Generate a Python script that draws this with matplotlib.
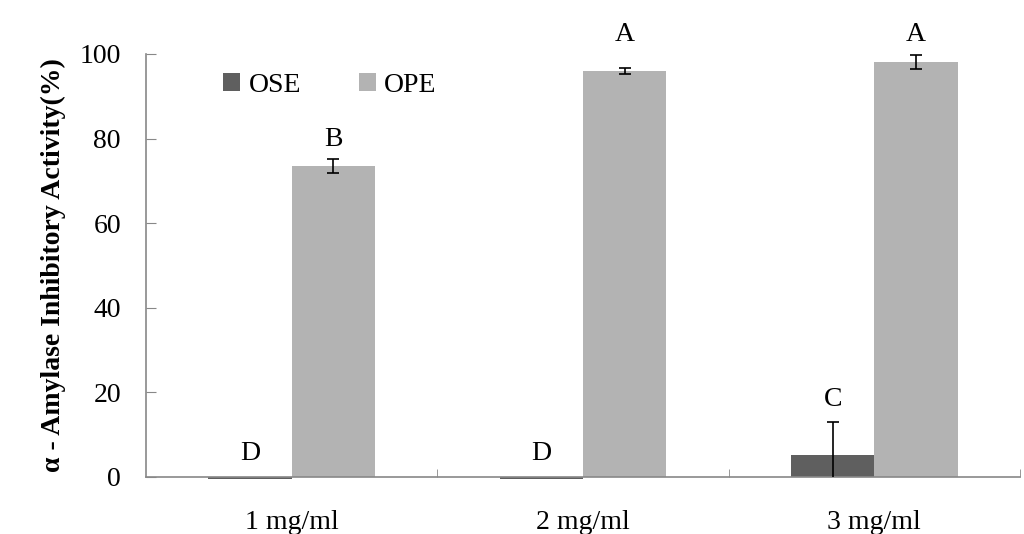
import numpy as np
import matplotlib.pyplot as plt

plt.rcParams['font.family'] = ['Liberation Serif', 'DejaVu Serif']

doses = ['1 mg/ml', '2 mg/ml', '3 mg/ml']
ose = [-0.4, -0.4, 5.3]
ose_err = [0.0, 0.0, 7.6]
ope = [73.5, 96.0, 98.1]
ope_err = [1.6, 0.7, 1.7]
ose_letters = ['D', 'D', 'C']
ope_letters = ['B', 'A', 'A']

c_ose = '#5f5f5f'
c_ope = '#b3b3b3'

fig = plt.figure(figsize=(10.24, 5.34), dpi=100)
ax = fig.add_axes([146/1024, 57/534, 874/1024, 423/534])

x = np.arange(len(doses))
w = 1 / 3.5

b1 = ax.bar(x - w/2, ose, w, color=c_ose, label='OSE', clip_on=False, zorder=2)
b2 = ax.bar(x + w/2, ope, w, color=c_ope, label='OPE', zorder=2)

for i in range(len(doses)):
    if ose_err[i] > 0:
        ax.errorbar(x[i] - w/2, ose[i], yerr=ose_err[i], fmt='none', ecolor='k',
                    elinewidth=1.2, capsize=4, capthick=1.2, zorder=3)
    ax.errorbar(x[i] + w/2, ope[i], yerr=ope_err[i], fmt='none', ecolor='k',
                elinewidth=1.2, capsize=4, capthick=1.2, zorder=3)

# significance letters
ose_pos = [5.5, 5.5, 18.4]
ope_pos = [79.8, 104.6, 104.6]
for i in range(len(doses)):
    ax.text(x[i] - w/2, ose_pos[i], ose_letters[i], ha='center', va='center', fontsize=20, clip_on=False)
    ax.text(x[i] + w/2, ope_pos[i], ope_letters[i], ha='center', va='center', fontsize=20, clip_on=False)

ax.set_xlim(-0.5, 2.5)
ax.set_ylim(0, 100)
ax.set_yticks(range(0, 101, 20))
ax.set_xticks(x)
ax.set_xticklabels(doses)
ax.set_xticks([0.5, 1.5, 2.5], minor=True)
ax.tick_params(axis='x', which='major', length=0, pad=24, labelsize=20)
ax.tick_params(axis='x', which='minor', length=6, direction='in', color='#888888')
ax.tick_params(axis='y', direction='in', length=7, color='#888888', pad=18, labelsize=20)

for s in ['top', 'right']:
    ax.spines[s].set_visible(False)
for s in ['left', 'bottom']:
    ax.spines[s].set_color('#888888')
    ax.spines[s].set_linewidth(1.2)

ax.set_ylabel('α - Amylase Inhibitory Activity(%)', fontsize=20, fontweight='bold', labelpad=10)

ax.legend(handles=[b1, b2], loc='upper left', bbox_to_anchor=(0.06, 1.015), ncol=2, frameon=False,
          fontsize=20, handlelength=0.6, handleheight=0.6, handletextpad=0.3, columnspacing=2.1)

fig.savefig('out.png', dpi=100)
